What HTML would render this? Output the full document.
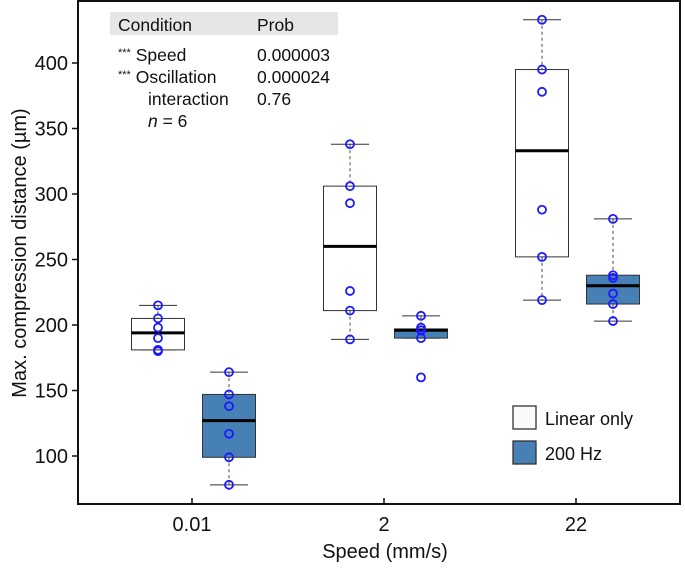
<!DOCTYPE html>
<html><head><meta charset="utf-8"><style>
body{margin:0;background:#fff;font-family:"Liberation Sans",sans-serif}
svg text{font-family:"Liberation Sans",sans-serif;fill:#111}
</style></head><body>
<svg width="685" height="564" xmlns="http://www.w3.org/2000/svg" id="chart">
</svg>
<script>
const categories=["0.01","2","22"];
const yTicks=[100,150,200,250,300,350,400];
const linStats=[[181,181,194,205,215],[189,211,260,306,338],[219,252,333,395,433]];
const hzStats=[[78,99,127,147,164],[190,190,196,197,207],[203,216,230,238,281]];
const linPoints=[[215,205,198,190,181,180],[338,306,293,226,211,189],[433,395,378,288,252,219]];
const hzPoints=[[164,147,138,117,99,78],[207,198,196,190,160,196],[281,238,236,224,216,203]];
const NS="http://www.w3.org/2000/svg";
const svg=document.getElementById('chart');
const X0=78,X1=680,Y0=1,Y1=504;
function y(v){return 63+(400-v)*1.31;}
function xc(i){return 192+i*192;}
function el(t,a,p){const e=document.createElementNS(NS,t);for(const k in a)e.setAttribute(k,a[k]);(p||svg).appendChild(e);return e;}
let f=el('rect',{x:X0,y:Y0,width:X1-X0,height:Y1-Y0,fill:'none',stroke:'#111','stroke-width':2});


yTicks.forEach(v=>{
 let t=el('line',{x1:X0-6,x2:X0,y1:y(v),y2:y(v),stroke:'#111','stroke-width':1.5});
 
 
 let l=el('text',{x:X0-10,y:y(v)+7,'text-anchor':'end','font-size':20});l.textContent=v;
 
 
});
categories.forEach((c,i)=>{
 let t=el('line',{x1:xc(i),x2:xc(i),y1:Y1,y2:Y1-6,stroke:'#111','stroke-width':1.5});
 
 
 let l=el('text',{x:xc(i),y:531,'text-anchor':'middle','font-size':20});l.textContent=c;
 
 
});
function box(s,pts,cx,fill,name){
 const g=el('g',{});
 
 
 const w=53;
 el('line',{x1:cx,x2:cx,y1:y(s[4]),y2:y(s[3]),stroke:'#444','stroke-dasharray':'3,3'},g);
 el('line',{x1:cx,x2:cx,y1:y(s[1]),y2:y(s[0]),stroke:'#444','stroke-dasharray':'3,3'},g);
 el('line',{x1:cx-19,x2:cx+19,y1:y(s[4]),y2:y(s[4]),stroke:'#333'},g);
 el('line',{x1:cx-19,x2:cx+19,y1:y(s[0]),y2:y(s[0]),stroke:'#333'},g);
 el('rect',{x:cx-w/2,y:y(s[3]),width:w,height:Math.max(1,y(s[1])-y(s[3])),fill:fill,stroke:'#333'},g);
 el('line',{x1:cx-w/2,x2:cx+w/2,y1:y(s[2]),y2:y(s[2]),stroke:'#000','stroke-width':3},g);
 pts.forEach(p=>{const c=el('circle',{cx:cx,cy:y(p),r:4,fill:'none',stroke:'#1a1aff','stroke-width':1.8},g);
  
  });
}
categories.forEach((c,i)=>{
 box(linStats[i],linPoints[i],xc(i)-34,'#fff','box-linear-'+c);
 box(hzStats[i],hzPoints[i],xc(i)+37,'#4680b4','box-200hz-'+c);
});
</script>
<svg width="685" height="564" style="position:absolute;left:0;top:0" xmlns="http://www.w3.org/2000/svg">
<rect x="110" y="12" width="228" height="23" fill="#e6e6e6"/>
<g font-size="17.5">
<text x="118" y="31">Condition</text><text x="257" y="31">Prob</text>
<text x="118" y="61"><tspan font-size="11" dy="-5">***</tspan><tspan dy="5"> Speed</tspan></text><text x="257" y="61">0.000003</text>
<text x="118" y="83"><tspan font-size="11" dy="-5">***</tspan><tspan dy="5"> Oscillation</tspan></text><text x="257" y="83">0.000024</text>
<text x="148" y="105">interaction</text><text x="257" y="105">0.76</text>
<text x="148" y="127"><tspan font-style="italic">n</tspan> = 6</text>
</g>
<g font-size="18">
<rect x="513" y="406" width="23" height="23" fill="#fafafa" stroke="#333" stroke-width="1.3"/>
<text x="545" y="425">Linear only</text>
<rect x="513" y="441" width="23" height="23" fill="#4680b4" stroke="#333" stroke-width="1.3"/>
<text x="545" y="460">200 Hz</text>
</g>
<text x="385" y="558" text-anchor="middle" font-size="20">Speed (mm/s)</text>
<text transform="translate(26,253) rotate(-90)" text-anchor="middle" font-size="20">Max. compression distance (µm)</text>
</svg>
</body></html>
